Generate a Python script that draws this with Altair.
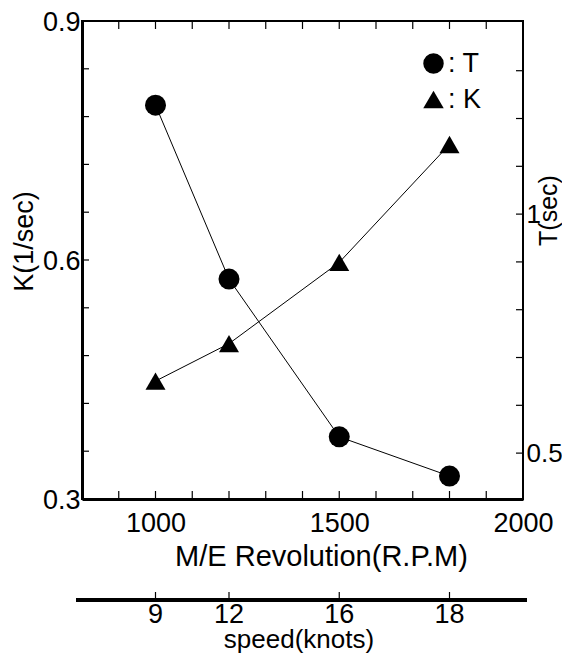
import altair as alt
import pandas as pd

# ---- data ----
rpm = [1000, 1200, 1500, 1800]
T_values = [1.228, 0.864, 0.534, 0.452]
K_values = [0.448, 0.495, 0.597, 0.745]

x_label_values = [1000, 1500, 2000]
x_tick_values = [900, 1000, 1100, 1200, 1300, 1400, 1500, 1600, 1700, 1800, 1900]
k_label_values = [0.3, 0.6, 0.9]
k_tick_values = [0.36, 0.42, 0.48, 0.54, 0.6, 0.66, 0.72, 0.78, 0.84]
t_label_values = [0.5, 1.0]
t_tick_values = [0.5, 0.6, 0.7, 0.8, 0.9, 1.0, 1.1, 1.2, 1.3]
speed_knots = ["9", "12", "16", "18"]
speed_rpm = [1000, 1200, 1500, 1800]

W, H = 441, 478
FONT = "Liberation Sans"
FS = 27

x_scale = alt.Scale(domain=[800, 2000], nice=False, zero=False)
k_scale = alt.Scale(domain=[0.3, 0.9], nice=False, zero=False)
t_scale = alt.Scale(domain=[0.404, 1.404], nice=False, zero=False)
shape_scale = alt.Scale(domain=["T", "K"], range=["circle", "triangle-up"])

df_k = pd.DataFrame({"rpm": rpm, "value": K_values, "series": "K"})
df_t = pd.DataFrame({"rpm": rpm, "value": T_values, "series": "T"})
df_xt = pd.DataFrame({"rpm": x_tick_values})
df_kt = pd.DataFrame({"value": k_tick_values})
df_tt = pd.DataFrame({"value": t_tick_values})
df_speed = pd.DataFrame({"rpm": speed_rpm, "knots": speed_knots})
df_one = pd.DataFrame({"a": [0]})

x_axis = alt.Axis(orient="bottom", values=x_label_values, format="d",
                  title="M/E Revolution(R.P.M)", titleFontSize=29,
                  ticks=False, tickSize=0, domain=True, domainWidth=3, domainColor="black",
                  labelFlush=False, labelPadding=11, titleX=239, titleY=66,
                  titleAlign="center", titleBaseline="alphabetic", grid=False,
                  labelBaseline="top")

k_axis = alt.Axis(orient="left", values=k_label_values, format=".1f", ticks=False, tickSize=0,
                  domain=True, domainWidth=3, domainColor="black", labelFlush=False,
                  labelPadding=2, labelOffset=1, title="K(1/sec)", titleAngle=270,
                  titleX=-58, titleY=220, titleAlign="center", titleBaseline="middle",
                  grid=False)

t_axis = alt.Axis(orient="right", values=t_label_values, format="~g", ticks=False, tickSize=0,
                  domain=False, labelFlush=False, labelPadding=3, labelFontSize=26,
                  title="T(sec)", titleFontSize=25,
                  titleAngle=270, titleX=33, titleY=189, titleAlign="center",
                  titleBaseline="alphabetic", grid=False)

legend = alt.Legend(orient="none", legendX=338, legendY=29, title=None, labelFont=FONT,
                    labelFontSize=FS, labelColor="black", symbolSize=420,
                    symbolFillColor="black", symbolStrokeColor="black", symbolStrokeWidth=0,
                    symbolOpacity=1, labelExpr="': ' + datum.label", rowPadding=8,
                    labelOffset=1, padding=0)

X = alt.X("rpm:Q", scale=x_scale, axis=x_axis)
YK = alt.Y("value:Q", scale=k_scale, axis=k_axis)
YT = alt.Y("value:Q", scale=t_scale, axis=t_axis)

# ---- K group (left axis) ----
k_line = alt.Chart(df_k).mark_line(color="black", strokeWidth=1).encode(x=X, y=YK)
k_pts = alt.Chart(df_k).mark_point(filled=True, size=400, color="black", opacity=1).encode(
    x=X, y=YK, shape=alt.Shape("series:N", scale=shape_scale, legend=legend))
x_ticks_bottom = alt.Chart(df_xt).mark_rule(color="black", strokeWidth=1.2).encode(
    x=X, y=alt.value(H), y2=alt.value(H - 8))
x_ticks_top = alt.Chart(df_xt).mark_rule(color="black", strokeWidth=1.2).encode(
    x=X, y=alt.value(0), y2=alt.value(8))
k_ticks = alt.Chart(df_kt).mark_rule(color="black", strokeWidth=1.2).encode(
    y=YK, x=alt.value(0), x2=alt.value(7))

# speed (knots) secondary axis below
speed_line = alt.Chart(df_one).mark_rule(color="black", strokeWidth=4).encode(
    x=alt.value(-6), x2=alt.value(445), y=alt.value(579))
speed_ticks = alt.Chart(df_speed).mark_rule(color="black", strokeWidth=1.2).encode(
    x=X, y=alt.value(579), y2=alt.value(571))
speed_labels = alt.Chart(df_speed).mark_text(font=FONT, fontSize=FS, color="black",
                                             baseline="alphabetic", align="center").encode(
    x=X, y=alt.value(602), text="knots:N")
speed_title = alt.Chart(df_one).mark_text(font=FONT, fontSize=26, color="black",
                                          baseline="alphabetic", align="center",
                                          text="speed(knots)").encode(
    x=alt.value(217), y=alt.value(627))

k_group = alt.layer(k_line, k_pts, x_ticks_bottom, x_ticks_top, k_ticks,
                    speed_line, speed_ticks, speed_labels, speed_title)

# ---- T group (right axis) ----
t_line = alt.Chart(df_t).mark_line(color="black", strokeWidth=1).encode(x=X, y=YT)
t_pts = alt.Chart(df_t).mark_point(filled=True, size=441, color="black", opacity=1).encode(
    x=X, y=YT, shape=alt.Shape("series:N", scale=shape_scale, legend=legend))
t_ticks = alt.Chart(df_tt).mark_rule(color="black", strokeWidth=1.2).encode(
    y=YT, x=alt.value(W), x2=alt.value(W - 7))

t_group = alt.layer(t_line, t_pts, t_ticks)

chart = alt.layer(k_group, t_group).resolve_scale(y="independent").properties(
    width=W, height=H,
    autosize=alt.AutoSizeParams(type="none"),
    padding={"left": 74, "top": 13, "right": 39, "bottom": 154},
).configure_view(stroke="black", strokeWidth=2).configure_axis(
    labelFont=FONT, titleFont=FONT, labelFontSize=FS, titleFontSize=FS,
    labelColor="black", titleColor="black", titleFontWeight="normal",
).configure_legend(labelFont=FONT, labelFontSize=FS)

chart.save("out.html", embed_options={"renderer": "svg", "actions": False})
